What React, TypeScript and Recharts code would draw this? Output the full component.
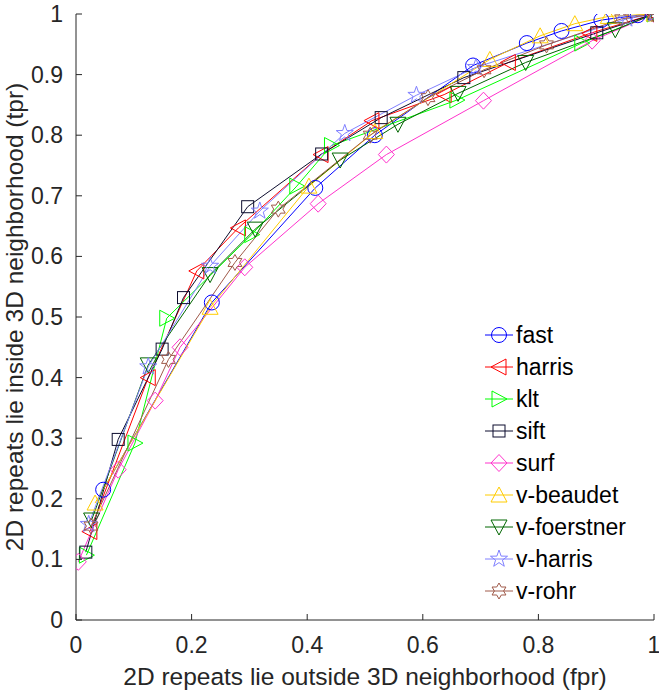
import { LineChart, Line, XAxis, YAxis, Legend, Label } from 'recharts';

document.body.style.margin = '0';

// [fpr, tpr] points
const fast = [[0.047, 0.215], [0.235, 0.524], [0.414, 0.713], [0.517, 0.8], [0.687, 0.915], [0.78, 0.952], [0.84, 0.972], [0.909, 0.99], [0.972, 0.998], [1, 1]];
const harris = [[0.024, 0.146], [0.125, 0.4], [0.209, 0.576], [0.281, 0.647], [0.424, 0.768], [0.512, 0.824], [0.637, 0.867], [0.748, 0.92], [0.889, 0.968], [1, 1]];
const klt = [[0.018, 0.107], [0.102, 0.292], [0.157, 0.498], [0.304, 0.636], [0.382, 0.716], [0.442, 0.783], [0.659, 0.858], [0.875, 0.952], [1, 1]];
const sift = [[0.017, 0.112], [0.073, 0.298], [0.149, 0.447], [0.186, 0.532], [0.297, 0.682], [0.425, 0.769], [0.528, 0.829], [0.671, 0.895], [0.901, 0.969], [1, 1]];
const surf = [[0.004, 0.096], [0.073, 0.248], [0.137, 0.362], [0.18, 0.45], [0.292, 0.582], [0.419, 0.687], [0.537, 0.768], [0.705, 0.857], [0.893, 0.956], [1, 1]];
const vBeaudet = [[0.033, 0.193], [0.232, 0.516], [0.403, 0.716], [0.517, 0.806], [0.716, 0.925], [0.803, 0.964], [0.863, 0.984], [0.921, 0.996], [1, 1]];
const vFoerstner = [[0.027, 0.165], [0.125, 0.421], [0.232, 0.57], [0.31, 0.645], [0.457, 0.759], [0.557, 0.818], [0.661, 0.869], [0.778, 0.92], [0.933, 0.974], [1, 1]];
const vHarris = [[0.022, 0.158], [0.125, 0.418], [0.232, 0.584], [0.318, 0.675], [0.465, 0.803], [0.589, 0.866], [0.692, 0.912], [0.953, 0.992], [1, 1]];
const vRohr = [[0.026, 0.155], [0.16, 0.43], [0.275, 0.59], [0.35, 0.678], [0.509, 0.8], [0.609, 0.862], [0.706, 0.908], [0.814, 0.949], [0.944, 0.992], [1, 1]];

const xTicks = [0, 0.2, 0.4, 0.6, 0.8, 1];
const yTicks = [0, 0.1, 0.2, 0.3, 0.4, 0.5, 0.6, 0.7, 0.8, 0.9, 1];

const series = [
  { name: 'fast', points: fast, color: '#0000ff', marker: 'o' },
  { name: 'harris', points: harris, color: '#ff0000', marker: '<' },
  { name: 'klt', points: klt, color: '#00ff00', marker: '>' },
  { name: 'sift', points: sift, color: '#0d0d2e', marker: 's' },
  { name: 'surf', points: surf, color: '#ff33cc', marker: 'd' },
  { name: 'v-beaudet', points: vBeaudet, color: '#ffcc00', marker: '^' },
  { name: 'v-foerstner', points: vFoerstner, color: '#006600', marker: 'v' },
  { name: 'v-harris', points: vHarris, color: '#8080ff', marker: 'p' },
  { name: 'v-rohr', points: vRohr, color: '#a05a4a', marker: 'h' },
];

const AXIS = '#262626';
const FONT = '"Liberation Sans", Arial, sans-serif';

function starPoints(cx: number, cy: number, n: number, outer: number, inner: number) {
  const pts: string[] = [];
  for (let i = 0; i < n * 2; i++) {
    const r = i % 2 === 0 ? outer : inner;
    const a = -Math.PI / 2 + (i * Math.PI) / n;
    pts.push(`${cx + r * Math.cos(a)},${cy + r * Math.sin(a)}`);
  }
  return pts.join(' ');
}

function Marker({ cx, cy, shape, color }: { cx: number; cy: number; shape: string; color: string }) {
  const common = { fill: 'none', stroke: color, strokeWidth: 1 };
  switch (shape) {
    case 'o':
      return <circle cx={cx} cy={cy} r={7.5} {...common} />;
    case '<':
      return <polygon points={`${cx - 8},${cy} ${cx + 7},${cy - 8} ${cx + 7},${cy + 8}`} {...common} />;
    case '>':
      return <polygon points={`${cx + 8},${cy} ${cx - 7},${cy - 8} ${cx - 7},${cy + 8}`} {...common} />;
    case 's':
      return <rect x={cx - 6} y={cy - 6} width={12} height={12} {...common} />;
    case 'd':
      return <polygon points={`${cx},${cy - 8.5} ${cx + 8},${cy} ${cx},${cy + 8.5} ${cx - 8},${cy}`} {...common} />;
    case '^':
      return <polygon points={`${cx},${cy - 8} ${cx + 8},${cy + 7} ${cx - 8},${cy + 7}`} {...common} />;
    case 'v':
      return <polygon points={`${cx},${cy + 8} ${cx + 8},${cy - 7} ${cx - 8},${cy - 7}`} {...common} />;
    case 'p':
      return <polygon points={starPoints(cx, cy, 5, 9, 3.6)} {...common} />;
    default:
      return <polygon points={starPoints(cx, cy, 6, 8, 4.6)} {...common} />;
  }
}

const fmt = (v: number) => String(Math.round(v * 10) / 10);

const YTick = (props: any) => {
  const { x, y, payload } = props;
  return (
    <g>
      <line x1={x + 13} x2={x + 19} y1={y} y2={y} stroke={AXIS} />
      <text x={x} y={y + 8} textAnchor="end" fill={AXIS} fontSize={23} fontFamily={FONT}>
        {fmt(payload.value)}
      </text>
    </g>
  );
};

const XTick = (props: any) => {
  const { x, y, payload } = props;
  return (
    <g>
      <line x1={x} x2={x} y1={y} y2={y - 6} stroke={AXIS} />
      <text x={x} y={y + 33} textAnchor="middle" fill={AXIS} fontSize={23} fontFamily={FONT}>
        {fmt(payload.value)}
      </text>
    </g>
  );
};

const renderLegend = () => (
  <div style={{ fontFamily: FONT }}>
    {series.map((s) => (
      <div key={s.name} style={{ display: 'flex', alignItems: 'center', height: 32 }}>
        <svg width={34} height={20}>
          <line x1={3} x2={31} y1={10} y2={10} stroke={s.color} />
          <Marker cx={17} cy={10} shape={s.marker} color={s.color} />
        </svg>
        <span style={{ fontSize: 23, color: '#000', lineHeight: '32px' }}>{s.name}</span>
      </div>
    ))}
  </div>
);

export default function App() {
  return (
    <LineChart width={659} height={692} margin={{ top: 14, right: 5, bottom: 0, left: 0 }}>
      <XAxis
        type="number"
        dataKey="x"
        domain={[0, 1]}
        ticks={xTicks}
        height={72}
        tickSize={0}
        tickMargin={0}
        tick={<XTick />}
        tickLine={false}
        axisLine={{ stroke: AXIS }}
        allowDataOverflow
      >
        <Label
          content={(props: any) => {
            const vb = props.viewBox;
            return (
              <text x={vb.x + vb.width / 2} y={685} textAnchor="middle" fill={AXIS} fontSize={24.5} fontFamily={FONT}>
                2D repeats lie outside 3D neighborhood (fpr)
              </text>
            );
          }}
        />
      </XAxis>
      <YAxis
        type="number"
        domain={[0, 1]}
        ticks={yTicks}
        width={76}
        tickSize={0}
        tickMargin={13}
        tick={<YTick />}
        tickLine={false}
        axisLine={{ stroke: AXIS }}
        allowDataOverflow
      >
        <Label
          content={(props: any) => {
            const vb = props.viewBox;
            const cy = vb.y + vb.height / 2;
            return (
              <text x={23} y={cy} transform={`rotate(-90 23 ${cy})`} textAnchor="middle" fill={AXIS} fontSize={24.5} fontFamily={FONT}>
                2D repeats lie inside 3D neighborhood (tpr)
              </text>
            );
          }}
        />
      </YAxis>
      <Legend
        layout="vertical"
        align="center"
        verticalAlign="middle"
        content={renderLegend}
        wrapperStyle={{ left: 482, top: 319, width: 170, height: 290 }}
      />
      {series.map((s) => (
        <Line
          key={s.name}
          name={s.name}
          data={s.points.map(([x, y]) => ({ x, y }))}
          dataKey="y"
          type="linear"
          stroke={s.color}
          strokeWidth={1}
          dot={(p: any) => <Marker key={`${s.name}-${p.index}`} cx={p.cx} cy={p.cy} shape={s.marker} color={s.color} />}
          activeDot={false}
          isAnimationActive={false}
        />
      ))}
    </LineChart>
  );
}
